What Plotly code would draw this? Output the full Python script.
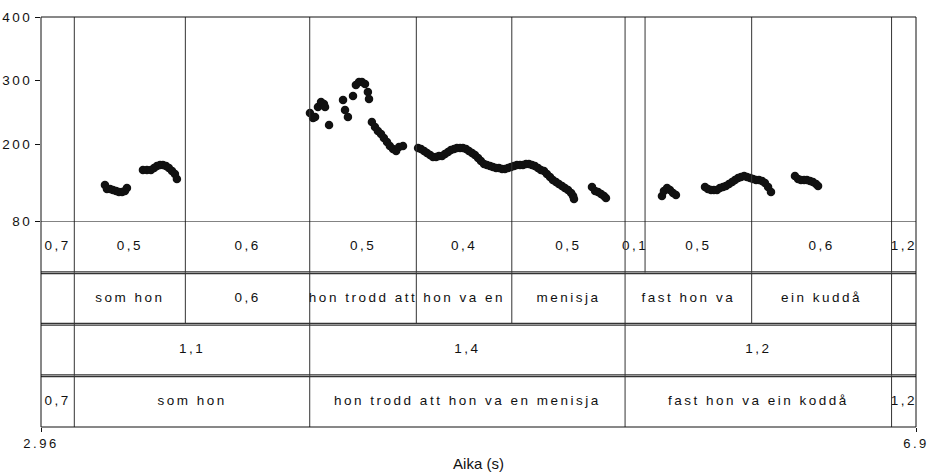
import plotly.graph_objects as go

# F0 contour (time in s, pitch in Hz), one pair of lists per voiced stretch
t_som_hon = [3.248, 3.257, 3.271, 3.284, 3.298, 3.311, 3.325, 3.338, 3.347,
             3.419, 3.437, 3.455, 3.469, 3.482, 3.496, 3.509, 3.523, 3.536, 3.550, 3.563, 3.572]
f0_som_hon = [136.5, 130.2, 130.2, 128.6, 127.1, 125.5, 125.5, 127.1, 131.8,
              160.0, 160.0, 160.0, 163.1, 166.3, 167.8, 167.8, 166.3, 163.1, 158.4, 153.7, 145.9]

t_hon_trodd = [4.171, 4.185, 4.194, 4.207, 4.221, 4.234, 4.239, 4.257, 4.320, 4.329, 4.342,
               4.365, 4.378, 4.392, 4.405, 4.419, 4.432, 4.437, 4.450, 4.464, 4.477, 4.491,
               4.504, 4.518, 4.531, 4.545, 4.559, 4.572, 4.590]
f0_hon_trodd = [249.4, 241.6, 243.1, 258.8, 266.7, 263.5, 258.8, 230.6, 269.8, 254.1, 243.1,
                276.1, 293.3, 298.0, 298.0, 294.9, 282.4, 271.4, 235.3, 227.4, 221.2, 216.5,
                210.2, 203.9, 197.6, 192.9, 189.8, 196.1, 197.6]

t_hon_va_en = [4.658, 4.671, 4.685, 4.698, 4.712, 4.725, 4.739, 4.752, 4.766, 4.779, 4.793,
               4.806, 4.820, 4.833, 4.847, 4.860, 4.874, 4.887, 4.901, 4.914, 4.928, 4.941,
               4.955, 4.968, 4.982, 4.995, 5.009, 5.022, 5.036, 5.049, 5.063]
f0_hon_va_en = [194.5, 192.9, 189.8, 186.7, 183.5, 180.4, 180.4, 182.0, 182.0, 185.1, 188.2,
                191.4, 192.9, 194.5, 194.5, 194.5, 192.9, 189.8, 186.7, 183.5, 178.8, 174.1,
                169.4, 167.8, 166.3, 164.7, 163.1, 163.1, 161.6, 161.6, 163.1]

t_menisja = [5.076, 5.090, 5.103, 5.117, 5.130, 5.144, 5.157, 5.171, 5.184, 5.198, 5.211,
             5.225, 5.238, 5.252, 5.265, 5.279, 5.292, 5.306, 5.319, 5.333, 5.347, 5.356, 5.360,
             5.441, 5.455, 5.468, 5.482, 5.495, 5.504]
f0_menisja = [164.7, 166.3, 167.8, 167.8, 167.8, 169.4, 169.4, 167.8, 166.3, 163.1, 160.0,
              158.4, 153.7, 149.0, 144.3, 141.2, 138.0, 134.9, 131.8, 128.6, 123.9, 119.2, 114.5,
              133.3, 127.1, 125.5, 122.4, 119.2, 116.1]

t_fast_hon = [5.756, 5.765, 5.779, 5.792, 5.806, 5.819,
              5.950, 5.963, 5.977, 5.990, 6.004, 6.017, 6.031, 6.044, 6.058, 6.072, 6.085,
              6.099, 6.112, 6.126, 6.139, 6.153, 6.166, 6.180, 6.193, 6.207, 6.220, 6.234, 6.247]
f0_fast_hon = [119.2, 127.1, 131.8, 128.6, 123.9, 120.8,
               133.3, 130.2, 128.6, 128.6, 128.6, 131.8, 133.3, 134.9, 138.0, 141.2, 144.3,
               147.5, 149.0, 150.6, 149.0, 147.5, 145.9, 144.3, 144.3, 142.7, 139.6, 133.3, 125.5]

t_kudda = [6.355, 6.369, 6.382, 6.396, 6.409, 6.423, 6.436, 6.450, 6.459]
f0_kudda = [150.6, 145.9, 144.3, 144.3, 144.3, 142.7, 141.2, 138.0, 134.9]

# Annotation tiers: segment boundaries (s) and the label of each segment
tier1_bounds = [2.96, 3.11, 3.61, 4.17, 4.65, 5.08, 5.59, 5.68, 6.16, 6.79, 6.9]
tier1_labels = ["0,7", "0,5", "0,6", "0,5", "0,4", "0,5", "0,1", "0,5", "0,6", "1,2"]

tier2_bounds = [2.96, 3.11, 3.61, 4.17, 4.65, 5.08, 5.59, 6.16, 6.79, 6.9]
tier2_labels = ["", "som hon", "0,6", "hon trodd att", "hon va en", "menisja",
                "fast hon va", "ein kuddå", ""]

tier3_bounds = [2.96, 3.11, 4.17, 5.59, 6.79, 6.9]
tier3_labels = ["", "1,1", "1,4", "1,2", ""]

tier4_bounds = [2.96, 3.11, 4.17, 5.59, 6.79, 6.9]
tier4_labels = ["0,7", "som hon", "hon trodd att hon va en menisja",
                "fast hon va ein koddå", "1,2"]

x_range = [2.96, 6.9]
y_ticks = [80, 200, 300, 400]

FONT = "Liberation Sans, Arial, sans-serif"
INK = "#111111"
TABLE_TOP = 0.5024  # paper fraction where the tier table begins

fig = go.Figure()

# pitch dots
t_all = t_som_hon + t_hon_trodd + t_hon_va_en + t_menisja + t_fast_hon + t_kudda
f_all = f0_som_hon + f0_hon_trodd + f0_hon_va_en + f0_menisja + f0_fast_hon + f0_kudda
fig.add_trace(go.Scatter(
    x=t_all, y=f_all, mode="markers",
    marker=dict(size=8.5, color=INK, line=dict(width=0)),
    showlegend=False, hoverinfo="x+y",
))

tiers = [(tier1_bounds, tier1_labels), (tier2_bounds, tier2_labels),
         (tier3_bounds, tier3_labels), (tier4_bounds, tier4_labels)]

shapes = []
row_h = TABLE_TOP / 4.0
for r, (bounds, labels) in enumerate(tiers):
    y_top_row = 4 - r
    centers = [(a + b) / 2 for a, b in zip(bounds[:-1], bounds[1:])]
    fig.add_trace(go.Scatter(
        x=centers, y=[y_top_row - 0.5] * len(centers), mode="text",
        text=labels, textposition="middle center",
        textfont=dict(family=FONT, size=13.5, color=INK),
        yaxis="y2", showlegend=False, hoverinfo="skip", cliponaxis=False,
    ))
    # inner boundaries of this tier; first tier's lines run up through the pitch panel
    p_bot = TABLE_TOP - (r + 1) * row_h
    p_top = 1.0 if r == 0 else TABLE_TOP - r * row_h
    for b in bounds[1:-1]:
        shapes.append(dict(type="line", xref="x", yref="paper", x0=b, x1=b,
                           y0=p_bot, y1=p_top, line=dict(color="#333", width=1)))

# table top rule
shapes.append(dict(type="line", xref="paper", yref="y2", x0=0, x1=1, y0=4, y1=4,
                   line=dict(color=INK, width=1)))
# double rules between tiers
for yy in [3, 2, 1]:
    for off in (0.012, -0.022):
        shapes.append(dict(type="line", xref="paper", yref="y2", x0=0, x1=1,
                           y0=yy + off, y1=yy + off, line=dict(color="#333", width=1.2)))
# outer frame
shapes.append(dict(type="rect", xref="paper", yref="paper", x0=0, x1=1, y0=0, y1=1,
                   line=dict(color=INK, width=1)))

fig.update_layout(
    width=930, height=475,
    margin=dict(l=41, r=14, t=17, b=48),
    paper_bgcolor="white", plot_bgcolor="white",
    font=dict(family=FONT, size=13, color=INK),
    shapes=shapes,
    xaxis=dict(
        range=x_range, anchor="free", position=0, automargin=False,
        tickvals=x_range, ticktext=["2.96", "6.9"],
        ticks="outside", ticklen=4, tickcolor=INK,
        showgrid=False, zeroline=False, showline=False,
        tickfont=dict(family=FONT, size=13, color=INK),
        title=dict(text="Aika (s)", font=dict(family=FONT, size=15, color=INK), standoff=8),
    ),
    yaxis=dict(
        domain=[TABLE_TOP, 1], range=[80, 400], automargin=False,
        tickvals=y_ticks, ticks="outside", ticklen=5, tickcolor=INK,
        showgrid=False, zeroline=False, showline=False,
        tickfont=dict(family=FONT, size=13.5, color=INK),
    ),
    yaxis2=dict(domain=[0, TABLE_TOP], range=[0, 4], visible=False, fixedrange=True),
)

spacing_js = (
    "var gd=document.getElementById('{plot_id}');"
    "gd.querySelectorAll('.textpoint text, .ytick text, .xtick text')"
    ".forEach(function(t){t.style.letterSpacing='2.5px';});"
)
fig.write_html("out.html", post_script=spacing_js)
